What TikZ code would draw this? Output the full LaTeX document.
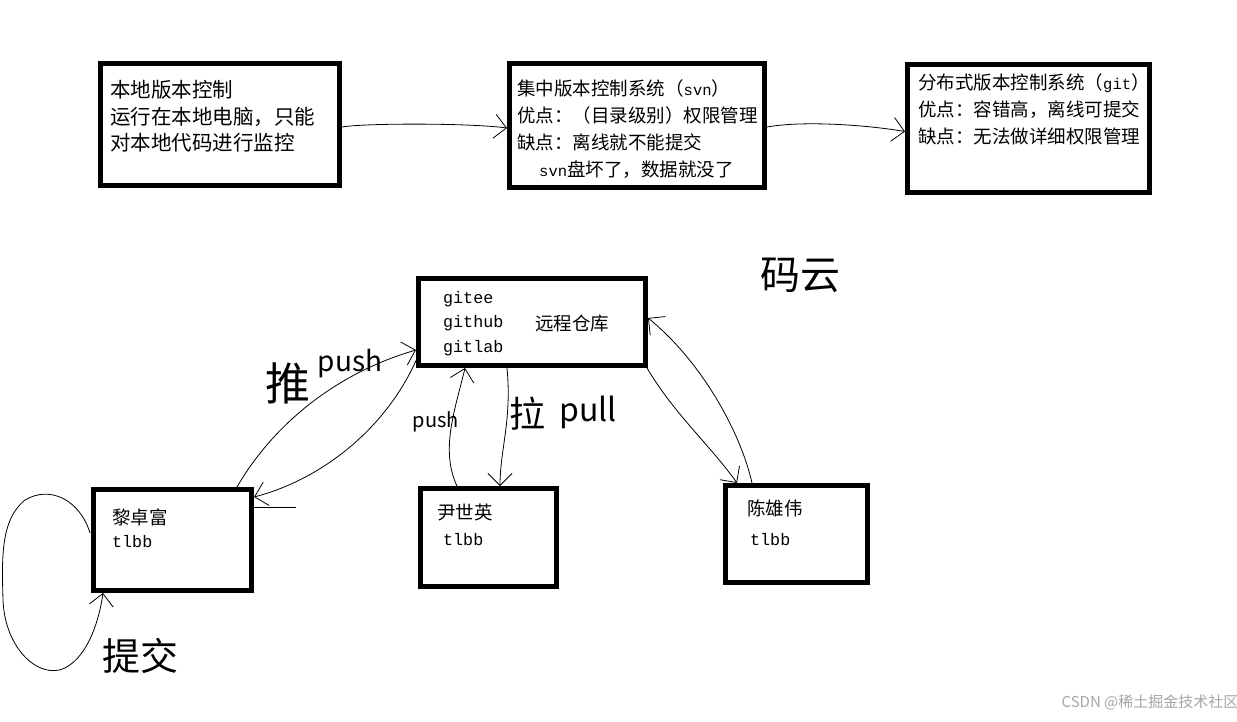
\documentclass[tikz,border=0pt]{standalone}
\usepackage{fontspec}
\newfontfamily\zhf{Noto Sans CJK SC}
\newfontfamily\mof{Liberation Mono}
\usetikzlibrary{arrows.meta}
\newcommand\mtx[1]{{\mof\fontsize{15.5}{16}\selectfont #1}}
\begin{document}
\begin{tikzpicture}[x=1pt,y=-1pt,
  box/.style={draw, line width=5pt, inner sep=0pt, outer sep=0pt},
  ta/.style={anchor=west, inner sep=0pt, font=\zhf\fontsize{20.5}{22}\selectfont},
  tb/.style={anchor=west, inner sep=0pt, font=\zhf\fontsize{18.5}{20}\selectfont},
  tm/.style={anchor=west, inner sep=0pt, font=\mof\fontsize{16.7}{18}\selectfont},
  hw/.style={inner sep=0pt, font=\zhf\fontsize{#1}{#1}\selectfont},
  hand/.style={line width=0.8pt, -{Straight Barb[length=12pt,width=24pt,line width=0.8pt]}},
  handline/.style={line width=0.8pt}]
\useasboundingbox (0,0) rectangle (1237,721);
\fill[white] (0,0) rectangle (1237,721);

% boxes
\node[box, minimum width=239pt, minimum height=122pt] (local) at (220,124.5) {};
\node[box, minimum width=255pt, minimum height=124pt] (svn) at (637,125.5) {};
\node[box, minimum width=242pt, minimum height=128pt] (git) at (1028.5,128.5) {};
\node[box, minimum width=227pt, minimum height=87pt] (remote) at (532,322) {};
\node[box, minimum width=158pt, minimum height=101pt] (lzf) at (172.5,540) {};
\node[box, minimum width=136pt, minimum height=98pt] (yse) at (488.5,537.5) {};
\node[box, minimum width=142pt, minimum height=97pt] (cxw) at (796.5,534) {};

% box texts
\node[ta] (l1) at (110,90) {本地版本控制};
\node[ta] (l2) at (110,117) {运行在本地电脑，只能};
\node[ta] (l3) at (110,143) {对本地代码进行监控};

\node[tb] (s1) at (517,88) {集中版本控制系统（\mtx{svn}）};
\node[tb] (s2) at (517,115) {优点：（目录级别）权限管理};
\node[tb] (s3) at (517,142) {缺点：离线就不能提交};
\node[tb] (s4) at (539,170) {\mtx{svn}盘坏了，数据就没了};

\node[tb] (g1) at (918,83) {分布式版本控制系统（\mtx{git}）};
\node[tb] (g2) at (918,110) {优点：容错高，离线可提交};
\node[tb] (g3) at (918,136) {缺点：无法做详细权限管理};

\node[tm] (r1) at (443,299) {gitee};
\node[tm] (r2) at (443,323) {github};
\node[tm] (r3) at (443,348) {gitlab};
\node[tb] (r4) at (535,323) {远程仓库};

\node[tb] (p1) at (112,517) {黎卓富};
\node[tm] (p1b) at (112,542) {tlbb};
\node[tb] (p2) at (437,512) {尹世英};
\node[tm] (p2b) at (443,540) {tlbb};
\node[tb] (p3) at (747,508) {陈雄伟};
\node[tm] (p3b) at (750,540) {tlbb};

% top arrows
\draw[hand] ([xshift=2.5pt,yshift=-2.5pt]local.east) .. controls (365,123) and (470,123) .. ([xshift=-2.5pt,yshift=-2.5pt]svn.west);
\draw[hand] ([xshift=2.5pt,yshift=-1.5pt]svn.east) .. controls (800,121) and (860,124) .. ([xshift=-2.5pt,yshift=-3pt]git.west);

% push / pull between lzf and remote
\draw[hand] ([xshift=-14.5pt,yshift=2.5pt]lzf.north east) .. controls (270,430) and (330,375) .. ([xshift=-2.5pt,yshift=-28pt]remote.west);
\draw[hand] ([xshift=-2.5pt,yshift=5pt]remote.south west) .. controls (385,430) and (320,480) .. ([xshift=2.5pt,yshift=-7.5pt]lzf.north east);
\draw[handline] ([xshift=2.5pt,yshift=-17.5pt]lzf.north east) -- ++(42,0);

% yse <-> remote
\draw[hand] ([xshift=-31.5pt,yshift=2.5pt]yse.north) .. controls (440,450) and (455,410) .. ([xshift=-67pt,yshift=-2.5pt]remote.south);
\draw[hand] ([xshift=-25pt,yshift=-2.5pt]remote.south) .. controls (512,420) and (500,450) .. ([xshift=11.5pt,yshift=2.5pt]yse.north);

% cxw <-> remote
\draw[hand] ([xshift=1.5pt,yshift=-2.5pt]remote.south east) .. controls (675,415) and (710,445) .. ([xshift=11.5pt,yshift=2.5pt]cxw.north west);
\draw[hand] ([xshift=26.5pt,yshift=2.5pt]cxw.north west) .. controls (740,430) and (700,360) .. ([xshift=2.5pt,yshift=4pt]remote.east);

% self loop (commit)
\draw[hand] ([xshift=-3.5pt,yshift=7pt]lzf.west) .. controls (80,500) and (50,485) .. (25,500)
  .. controls (0,520) and (2,560) .. (3,600)
  .. controls (5,650) and (40,680) .. (65,668)
  .. controls (90,655) and (100,615) .. ([xshift=9.5pt,yshift=-2.5pt]lzf.south west);

% handwritten labels
\node[hw=45] (hpush1) at (288,383) {推};
\node[hw=28] (hpush2) at (350,364) {push};
\node[hw=40] (mayun) at (800,275) {码云};
\node[hw=36] (hla) at (527,414) {拉};
\node[hw=32] (hpull) at (588,412) {pull};
\node[hw=20] (hpush3) at (436,422) {push};
\node[hw=38] (commit) at (140,656) {提交};

% watermark
\node[inner sep=0pt, text=black!35, font=\zhf\fontsize{15}{16}\selectfont] (wm) at (1150,702) {CSDN @稀土掘金技术社区};
\end{tikzpicture}
\end{document}
